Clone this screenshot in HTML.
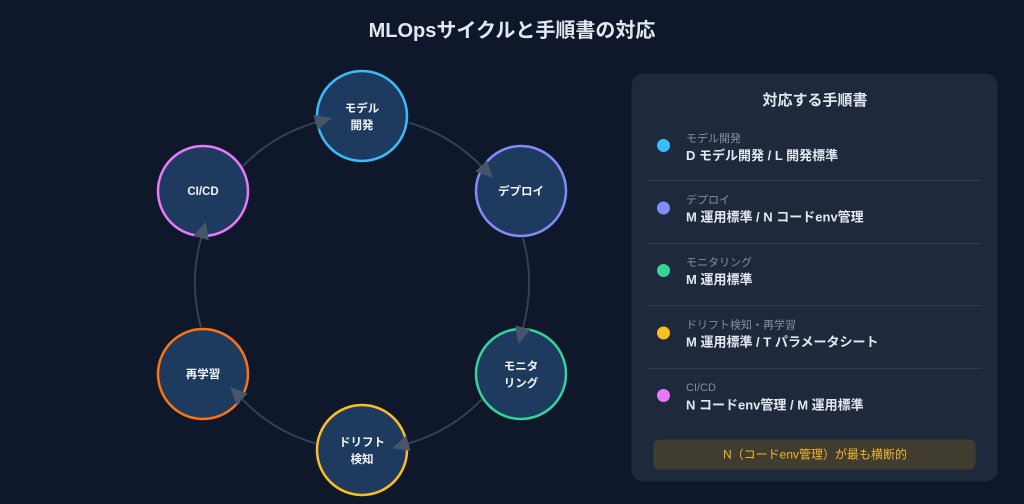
<!DOCTYPE html>
<html><head><meta charset="utf-8">
<style>
html,body{margin:0;padding:0;background:#0f172a;}
svg{display:block;}
text{font-family:"Liberation Sans","Noto Sans CJK JP",sans-serif;}
</style></head>
<body>
<svg width="1024" height="504" viewBox="0 0 1024 504" xmlns="http://www.w3.org/2000/svg">
<defs>
<marker id="ah" markerUnits="userSpaceOnUse" markerWidth="18" markerHeight="16" refX="0" refY="8" orient="auto">
<path d="M0,0 L17,8 L0,16 Z" fill="#475569"/>
</marker>
</defs>
<rect width="1024" height="504" fill="#0f172a"/>
<text x="512" y="37" text-anchor="middle" font-size="20" font-weight="bold" fill="#e2e8f0">MLOpsサイクルと手順書の対応</text>

<!-- arcs -->
<g fill="none" stroke="#334155" stroke-width="2">
<path d="M242.7,166.2 A167,167 0 0 1 315.4,122.6"/>
<path d="M408.6,122.6 A167,167 0 0 1 481.1,165.9"/>
<path d="M522.9,238.1 A167,167 0 0 1 523.0,327.4"/>
<path d="M481.7,399.4 A167,167 0 0 1 408.6,443.4"/>
<path d="M315.4,443.4 A167,167 0 0 1 242.1,399.2"/>
<path d="M200.9,327.1 A167,167 0 0 1 201.1,238.1"/>
</g>

<!-- nodes -->
<g stroke-width="2.5" fill="#1e3a5f">
<circle cx="362" cy="116" r="45" stroke="#38bdf8"/>
<circle cx="521" cy="191" r="45" stroke="#818cf8"/>
<circle cx="521" cy="374" r="45" stroke="#34d399"/>
<circle cx="362" cy="450" r="45" stroke="#fbbf24"/>
<circle cx="203" cy="374" r="45" stroke="#f97316"/>
<circle cx="203" cy="191" r="45" stroke="#e879f9"/>
</g>

<!-- arrowheads (zero-length tangent paths) -->
<g fill="none" stroke="none">
<path d="M242.7,166.2 A167,167 0 0 1 315.4,122.6" marker-end="url(#ah)"/>
<path d="M408.6,122.6 A167,167 0 0 1 481.1,165.9" marker-end="url(#ah)"/>
<path d="M522.9,238.1 A167,167 0 0 1 523.0,327.4" marker-end="url(#ah)"/>
<path d="M481.7,399.4 A167,167 0 0 1 408.6,443.4" marker-end="url(#ah)"/>
<path d="M315.4,443.4 A167,167 0 0 1 242.1,399.2" marker-end="url(#ah)"/>
<path d="M200.9,327.1 A167,167 0 0 1 201.1,238.1" marker-end="url(#ah)"/>
</g>

<!-- node labels -->
<g font-size="11.5" font-weight="bold" fill="#f1f5f9" text-anchor="middle">
<text x="362" y="112">モデル</text>
<text x="362" y="129">開発</text>
<text x="521" y="195">デプロイ</text>
<text x="521" y="370">モニタ</text>
<text x="521" y="387">リング</text>
<text x="362" y="446">ドリフト</text>
<text x="362" y="463">検知</text>
<text x="203" y="378">再学習</text>
<text x="203" y="195">CI/CD</text>
</g>

<!-- panel -->
<rect x="631.5" y="73.5" width="366" height="408" rx="12" fill="#1e293b"/>
<text x="815" y="105" text-anchor="middle" font-size="15" font-weight="bold" fill="#e2e8f0">対応する手順書</text>

<g stroke="#2d3a4f" stroke-width="1">
<line x1="648" y1="180.5" x2="982" y2="180.5"/>
<line x1="648" y1="243.5" x2="982" y2="243.5"/>
<line x1="648" y1="305.5" x2="982" y2="305.5"/>
<line x1="648" y1="368.5" x2="982" y2="368.5"/>
</g>

<circle cx="663.5" cy="145.5" r="6.5" fill="#38bdf8"/>
<circle cx="663.5" cy="208" r="6.5" fill="#818cf8"/>
<circle cx="663.5" cy="270.5" r="6.5" fill="#34d399"/>
<circle cx="663.5" cy="333" r="6.5" fill="#fbbf24"/>
<circle cx="663.5" cy="395.5" r="6.5" fill="#e879f9"/>

<g font-size="11" fill="#8190a5">
<text x="686" y="142">モデル開発</text>
<text x="686" y="203.5">デプロイ</text>
<text x="686" y="266">モニタリング</text>
<text x="686" y="328.5">ドリフト検知・再学習</text>
<text x="686" y="391">CI/CD</text>
</g>
<g font-size="13" font-weight="bold" fill="#e2e8f0">
<text x="686" y="160">D モデル開発 / L 開発標準</text>
<text x="686" y="221.5">M 運用標準 / N コードenv管理</text>
<text x="686" y="284">M 運用標準</text>
<text x="686" y="346.5">M 運用標準 / T パラメータシート</text>
<text x="686" y="409.5">N コードenv管理 / M 運用標準</text>
</g>

<rect x="653.5" y="439.5" width="322" height="30" rx="6" fill="#403d30"/>
<text x="815" y="458.5" text-anchor="middle" font-size="12" fill="#f5b52a">N（コードenv管理）が最も横断的</text>
</svg>
</body></html>
